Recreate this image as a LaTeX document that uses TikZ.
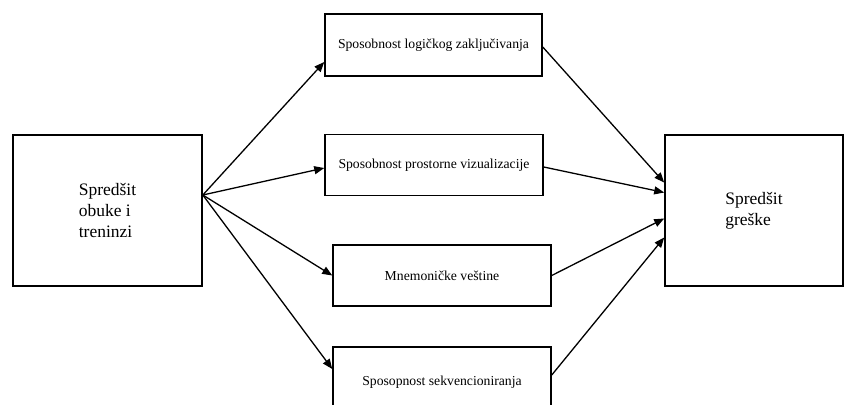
\documentclass[tikz,border=0pt]{standalone}
\usepackage{fontspec}
\setmainfont{Liberation Serif}
\usetikzlibrary{arrows.meta}
\begin{document}
\begin{tikzpicture}[x=1pt,y=-1pt,
  bigbox/.style={draw, line width=1.6pt, minimum width=#1, minimum height=151pt,
    align=left, font=\fontsize{17.5}{21}\selectfont, inner sep=0pt},
  smallbox/.style={draw, line width=1.5pt, minimum width=218pt, minimum height=61pt,
    font=\fontsize{13.7}{16}\selectfont, inner sep=0pt},
  link/.style={line width=1.3pt, -{Triangle[length=10pt,width=8pt]}}]
\useasboundingbox (0,0) rectangle (845,404);
\clip (0,0) rectangle (845,404);
\fill[white] (0,0) rectangle (845,404);

% input and outcome
\node[bigbox=189pt] (L) at (107.5,210.5) {Spredšit\\obuke i\\treninzi};
\node[bigbox=178pt] (R) at (754,210.5) {Spredšit\\greške};

% mediating abilities
\node[smallbox, minimum width=217pt, minimum height=62pt] (b1) at (433.5,45) {Sposobnost logičkog zaključivanja};
\node[smallbox] (b2) at (434,165) {Sposobnost prostorne vizualizacije};
\node[smallbox] (b3) at (442,275.5) {Mnemoničke veštine};
\node[smallbox, minimum height=70pt] (b4) at (442,382) {Sposopnost sekvencioniranja};

\coordinate (src) at ([yshift=15.5pt]L.east);

% training to abilities
\draw[link] (src) -- ([yshift=-17pt]b1.west);
\draw[link] (src) -- ([yshift=-3pt]b2.west);
\draw[link] (src) -- (b3.west);
\draw[link] (src) -- ([yshift=13pt]b4.west);

% abilities to errors
\draw[link] ([yshift=-2pt]b1.east) -- ([yshift=28pt]R.west);
\draw[link] ([yshift=-2pt]b2.east) -- ([yshift=18pt]R.west);
\draw[link] (b3.east) -- ([yshift=-8pt]R.west);
\draw[link] ([yshift=7pt]b4.east) -- ([yshift=-27pt]R.west);
\end{tikzpicture}
\end{document}
